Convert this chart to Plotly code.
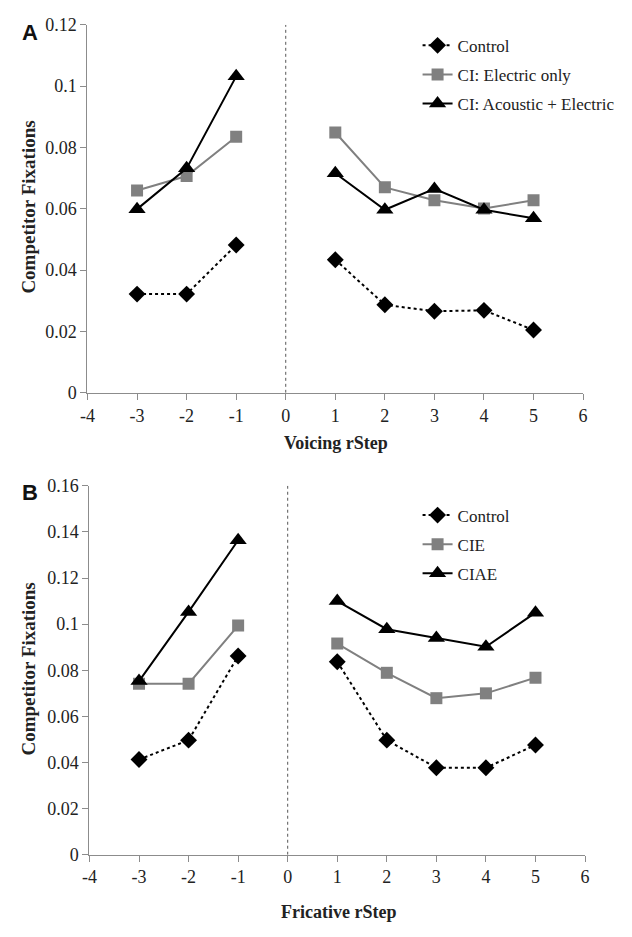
import plotly.graph_objects as go

steps = [-3, -2, -1, 0, 1, 2, 3, 4, 5]
x_ticks = [-4, -3, -2, -1, 0, 1, 2, 3, 4, 5, 6]
x_ticktext = ["-4", "-3", "-2", "-1", "0", "1", "2", "3", "4", "5", "6"]

# Panel A (Voicing)
a_control = [0.0322, 0.0322, 0.0482, None, 0.0434, 0.0287, 0.0266, 0.0269, 0.0205]
a_ci_elec = [0.0660, 0.0707, 0.0835, None, 0.0849, 0.0670, 0.0628, 0.0601, 0.0628]
a_ci_acel = [0.0599, 0.0732, 0.1032, None, 0.0716, 0.0597, 0.0665, 0.0597, 0.0569]
a_names = ["Control", "CI: Electric only", "CI: Acoustic + Electric"]
a_yticks = [0, 0.02, 0.04, 0.06, 0.08, 0.1, 0.12]
a_yticktext = ["0", "0.02", "0.04", "0.06", "0.08", "0.1", "0.12"]

# Panel B (Fricative)
b_control = [0.0413, 0.0497, 0.0862, None, 0.0837, 0.0497, 0.0377, 0.0377, 0.0476]
b_cie = [0.0742, 0.0742, 0.0994, None, 0.0916, 0.0789, 0.0679, 0.0700, 0.0768]
b_ciae = [0.0753, 0.1053, 0.1364, None, 0.1100, 0.0978, 0.0940, 0.0902, 0.1050]
b_names = ["Control", "CIE", "CIAE"]
b_yticks = [0, 0.02, 0.04, 0.06, 0.08, 0.1, 0.12, 0.14, 0.16]
b_yticktext = ["0", "0.02", "0.04", "0.06", "0.08", "0.1", "0.12", "0.14", "0.16"]

SERIF = "Liberation Serif, Times New Roman, serif"
styles = [
    dict(line=dict(color="black", width=2, dash="dot"),
         marker=dict(symbol="diamond", size=13, color="black")),
    dict(line=dict(color="#808080", width=2),
         marker=dict(symbol="square", size=12, color="#808080")),
    dict(line=dict(color="black", width=2),
         marker=dict(symbol="triangle-up", size=15, color="black")),
]

fig = go.Figure()

for i, (vals, name) in enumerate(zip([a_control, a_ci_elec, a_ci_acel], a_names)):
    fig.add_trace(go.Scatter(x=steps, y=vals, name=name, mode="lines+markers",
                             connectgaps=False, xaxis="x", yaxis="y",
                             legend="legend", legendgroup="a%d" % i, **styles[i]))
for i, (vals, name) in enumerate(zip([b_control, b_cie, b_ciae], b_names)):
    fig.add_trace(go.Scatter(x=steps, y=vals, name=name, mode="lines+markers",
                             connectgaps=False, xaxis="x2", yaxis="y2",
                             legend="legend2", legendgroup="b%d" % i, **styles[i]))

W, H = 632, 937
OFF = 8  # page body margin
def px(x): return (x - OFF) / W
def py(y): return 1 - (y - OFF) / H

axis_common = dict(showgrid=False, zeroline=False, showline=True, linecolor="#8c8c8c",
                   linewidth=1.2, ticks="outside", tickcolor="#8c8c8c", ticklen=6,
                   tickfont=dict(family=SERIF, size=18, color="#222"))

fig.update_layout(
    width=W, height=H, margin=dict(l=0, r=0, t=0, b=0),
    plot_bgcolor="white", paper_bgcolor="white",
    showlegend=True,
    xaxis=dict(domain=[px(81), px(587)], range=[-4, 6], tickvals=x_ticks, ticktext=x_ticktext,
               anchor="y", **axis_common),
    yaxis=dict(domain=[py(391), py(15)], range=[0, 0.12], tickvals=a_yticks, ticktext=a_yticktext,
               anchor="x", **axis_common),
    xaxis2=dict(domain=[px(83), px(589)], range=[-4, 6], tickvals=x_ticks, ticktext=x_ticktext,
                anchor="y2", **axis_common),
    yaxis2=dict(domain=[py(863), py(486)], range=[0, 0.16], tickvals=b_yticks, ticktext=b_yticktext,
                anchor="x2", **axis_common),
    legend=dict(x=px(418), y=py(18), xanchor="left", yanchor="top", bgcolor="rgba(0,0,0,0)",
                font=dict(family=SERIF, size=17, color="#222"), tracegroupgap=4),
    legend2=dict(x=px(418), y=py(498), xanchor="left", yanchor="top", bgcolor="rgba(0,0,0,0)",
                 font=dict(family=SERIF, size=17, color="#222"), tracegroupgap=4),
)

fig.add_shape(type="line", xref="x", yref="y", x0=0, x1=0, y0=0, y1=0.12,
              line=dict(color="#555", width=1, dash="dot"))
fig.add_shape(type="line", xref="x2", yref="y2", x0=0, x1=0, y0=0, y1=0.16,
              line=dict(color="#555", width=1, dash="dot"))

ann = [
    dict(text="<b>A</b>", x=px(22), y=py(23), font=dict(family="Liberation Sans", size=22, color="#111")),
    dict(text="<b>B</b>", x=px(22), y=py(493), font=dict(family="Liberation Sans", size=22, color="#111")),
    dict(text="<b>Competitor Fixations</b>", x=px(21), y=py(201), textangle=-90,
         font=dict(family=SERIF, size=19, color="#222")),
    dict(text="<b>Competitor Fixations</b>", x=px(21), y=py(673), textangle=-90,
         font=dict(family=SERIF, size=19, color="#222")),
    dict(text="<b>Voicing rStep</b>", x=px(335), y=py(442), font=dict(family=SERIF, size=18, color="#222")),
    dict(text="<b>Fricative rStep</b>", x=px(337), y=py(921), font=dict(family=SERIF, size=18, color="#222")),
]
for a in ann:
    fig.add_annotation(xref="paper", yref="paper", showarrow=False, xanchor="center", yanchor="middle", **a)

fig.write_html("out.html")
